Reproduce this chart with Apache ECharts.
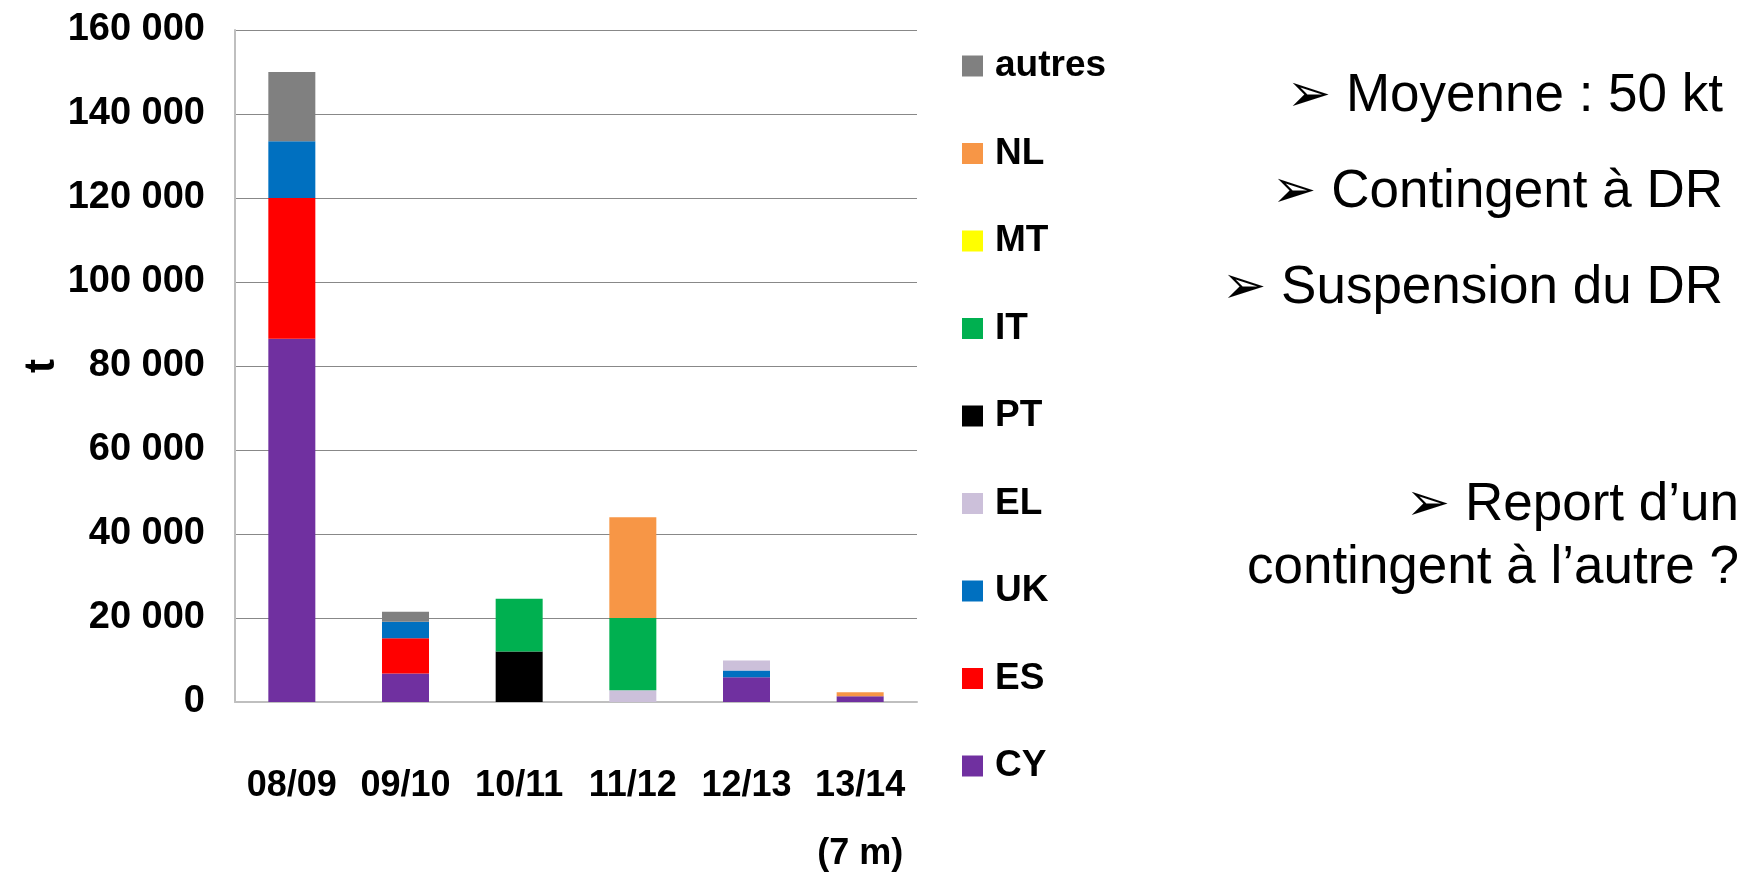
<!DOCTYPE html>
<html lang="fr">
<head>
    <meta charset="UTF-8">
    <script src="https://cdn.jsdelivr.net/npm/echarts@6/dist/echarts.min.js"></script>
    <title>Contingents</title>
    <style>
        html, body { margin: 0; padding: 0; background: #fff; }
        #chart { width: 1754px; height: 880px; }
    </style>
</head>
<body>
<div id="chart"></div>
<script type="text/javascript">

    // campagnes
    var campagnes = ['08/09', '09/10', '10/11', '11/12', '12/13', '13/14\n(7 m)'];

    // tonnes par pays (empilées de bas en haut)
    var CY = [86500, 6800, 0, 0, 5900, 1350];
    var ES = [33500, 8400, 0, 0, 0, 0];
    var UK = [13500, 3900, 0, 0, 1600, 0];
    var EL = [0, 0, 0, 2800, 2400, 0];
    var PT = [0, 0, 12000, 0, 0, 0];
    var IT = [0, 0, 12600, 17200, 0, 0];
    var MT = [0, 0, 0, 0, 0, 0];
    var NL = [0, 0, 0, 24000, 0, 950];
    var autres = [16500, 2400, 0, 0, 0, 0];

    var commentaires = ['\u27a2 Moyenne : 50 kt', '\u27a2 Contingent à DR', '\u27a2 Suspension du DR',
        '\u27a2 Report d\u2019un', 'contingent à l\u2019autre ?'];

    var pays = [
        {name: 'CY', data: CY, color: '#7030A0'},
        {name: 'ES', data: ES, color: '#FF0000'},
        {name: 'UK', data: UK, color: '#0070C0'},
        {name: 'EL', data: EL, color: '#CCC0DA'},
        {name: 'PT', data: PT, color: '#000000'},
        {name: 'IT', data: IT, color: '#00B050'},
        {name: 'MT', data: MT, color: '#FFFF00'},
        {name: 'NL', data: NL, color: '#F79646'},
        {name: 'autres', data: autres, color: '#808080'}
    ];

    var sans = '"Liberation Sans", Arial, "DejaVu Sans", sans-serif';

    var series = [];
    for (let p of pays) {
        series.push({
            name: p.name,
            type: 'bar',
            stack: 'total',
            barWidth: 47,
            itemStyle: {color: p.color},
            data: p.data
        });
    }

    // textes à droite
    var textY = [100, 196, 292, 509, 572];
    var textRight = [1723, 1723, 1723, 1739, 1739];
    var graphics = [];
    for (let i = 0; i < commentaires.length; i++) {
        graphics.push({
            type: 'text',
            right: 1754 - textRight[i],
            top: textY[i] - 30,
            style: {
                text: commentaires[i],
                font: '53px ' + sans,
                fill: '#000'
            }
        });
    }

    var chartDom = document.getElementById('chart');
    var myChart = echarts.init(chartDom);

    var option = {
        animation: false,
        backgroundColor: '#fff',
        grid: {left: 235, right: 837, top: 30, bottom: 178, outerBoundsMode: 'none', containLabel: false},
        legend: {
            orient: 'vertical',
            left: 957,
            top: 41,
            itemWidth: 21,
            itemHeight: 21,
            itemGap: 47.5,
            icon: 'rect',
            data: ['autres', 'NL', 'MT', 'IT', 'PT', 'EL', 'UK', 'ES', 'CY'],
            textStyle: {
                fontFamily: sans,
                fontWeight: 'bold',
                fontSize: 37,
                lineHeight: 40,
                color: '#000',
                padding: [0, 0, 0, 7]
            }
        },
        xAxis: {
            type: 'category',
            data: campagnes,
            axisLine: {lineStyle: {color: '#BFBFBF', width: 2}},
            axisTick: {show: false},
            axisLabel: {
                interval: 0,
                margin: 50,
                fontFamily: sans,
                fontWeight: 'bold',
                fontSize: 36,
                lineHeight: 68,
                color: '#000',
                verticalAlign: 'top'
            }
        },
        yAxis: {
            type: 'value',
            min: 0,
            max: 160000,
            interval: 20000,
            name: 't',
            nameLocation: 'middle',
            nameGap: 172,
            nameTextStyle: {
                fontFamily: sans,
                fontWeight: 'bold',
                fontSize: 42,
                color: '#000'
            },
            axisLine: {show: true, lineStyle: {color: '#BFBFBF', width: 2}},
            axisTick: {show: false},
            splitLine: {lineStyle: {color: '#888888', width: 1}},
            axisLabel: {
                margin: 30,
                fontFamily: sans,
                fontWeight: 'bold',
                fontSize: 38,
                color: '#000',
                formatter: function (v) {
                    return String(v).replace(/\B(?=(\d{3})+(?!\d))/g, ' ');
                }
            }
        },
        graphic: graphics,
        series: series
    };

    myChart.setOption(option);
</script>
</body>
</html>
